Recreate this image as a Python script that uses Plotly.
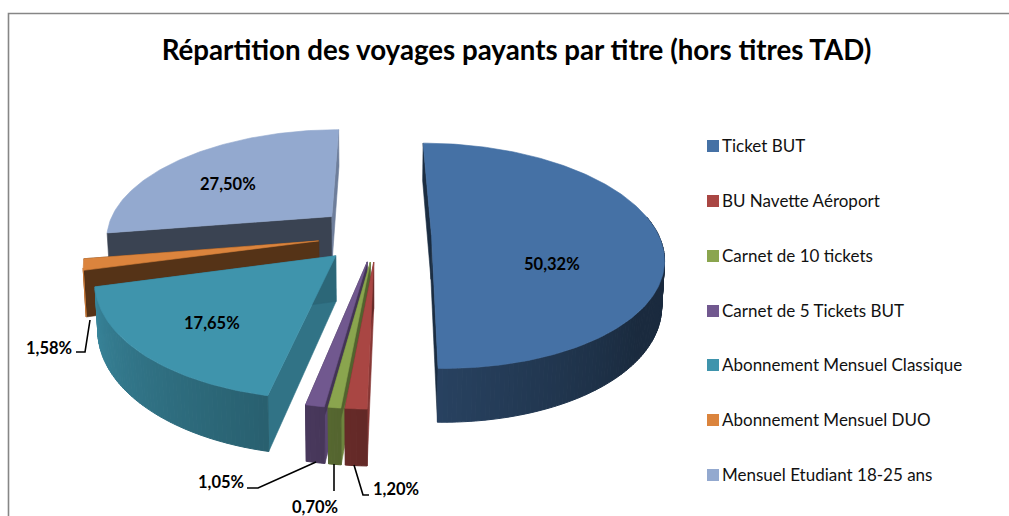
import numpy as np
import plotly.graph_objects as go

# ---- data ----
categories = ["Ticket BUT", "BU Navette Aéroport", "Carnet de 10 tickets", "Carnet de 5 Tickets BUT",
              "Abonnement Mensuel Classique", "Abonnement Mensuel DUO", "Mensuel Etudiant 18-25 ans"]
values = [50.32, 1.20, 0.70, 1.05, 17.65, 1.58, 27.50]
title_text = "Répartition des voyages payants par titre (hors titres TAD)"

# ---- styles ----
colors = ["#4571A5", "#A94643", "#8AA54E", "#71588F", "#3F94AC", "#DB843D", "#93A9CF"]
pulls = [0.24, 0.24, 0.24, 0.24, 0.255, 0.26, 0.27]
cut_start = [0.40, 0.80, 0.80, 0.80, 0.78, 0.39, 0.40]
cut_end = [0.40, 0.58, 0.60, 0.60, 0.70, 0.39, 0.75]
label_pos = [(552, 264), (396, 489), (315, 507), (221, 482), (212, 323), (49, 348), (228, 184)]
legend_rows = [146, 201, 256, 311, 365, 420, 475]
paint_order = [6, 5, 0, 4, 3, 2, 1]
leaders = [
    "M 90 320 L 85 352 L 76 352",
    "M 316 462 L 258 488 L 247 488",
    "M 334 464 L 334 491",
    "M 354 465 L 363 495 L 369 495",
]
CX, CY, RX, RY, K, DEPTH, SHRINK = 377, 235, 227, 108.8, 0.182, 44, 0.99


def top(X, Y):
    s = 1 / (1 - K * Y)
    return CX + RX * X * s, CY + RY * Y * s


def low(X, Y):
    s = 1 / (1 - K * Y)
    x, y = top(X, Y)
    return CX + (x - CX) * SHRINK, y + DEPTH * s


def shade(hexcol, f):
    r, g, b = (int(hexcol[i:i + 2], 16) for i in (1, 3, 5))
    return f"rgb({int(r * f)},{int(g * f)},{int(b * f)})"


def wall_factor(deg):
    return float(np.interp(deg, [60, 130, 180, 192, 255, 300], [0.38, 0.38, 0.58, 0.65, 0.90, 0.90]))


fig = go.Figure()


def poly(xs, ys, color, width=0.6):
    fig.add_trace(go.Scatter(
        x=list(xs), y=list(ys), mode="lines", fill="toself", fillcolor=color,
        line=dict(color=color, width=width), hoverinfo="skip", showlegend=False))


total = sum(values)
edges = np.concatenate([[0], np.cumsum(values)]) / total * 360

for i in paint_order:
    a0, a1 = edges[i], edges[i + 1]
    mid = np.radians((a0 + a1) / 2)
    ox, oy = pulls[i] * np.sin(mid), -pulls[i] * np.cos(mid)
    n = max(4, int(a1 - a0))
    th = np.radians(np.linspace(a0, a1, n + 1))
    X = ox + np.sin(th)
    Y = oy - np.cos(th)
    # cut faces
    for k, f in ((0, cut_start[i]), (-1, cut_end[i])):
        ax, ay = top(ox, oy)
        bx, by = top(X[k], Y[k])
        cx_, cy_ = low(X[k], Y[k])
        dx, dy = low(ox, oy)
        poly([ax, bx, cx_, dx, ax], [ay, by, cy_, dy, ay], shade(colors[i], f))
    # outer wall, as shaded strips (only the part facing the viewer shows)
    for j in range(n):
        deg = np.degrees((th[j] + th[j + 1]) / 2)
        if deg < 80 or deg > 256:
            continue
        x1, y1 = top(X[j], Y[j])
        x2, y2 = top(X[j + 1], Y[j + 1])
        x3, y3 = low(X[j + 1], Y[j + 1])
        x4, y4 = low(X[j], Y[j])
        poly([x1, x2, x3, x4, x1], [y1, y2, y3, y4, y1], shade(colors[i], wall_factor(deg)), 1)
    # top face
    tx, ty = top(X, Y)
    ax, ay = top(ox, oy)
    poly(np.r_[ax, tx, ax], np.r_[ay, ty, ay], colors[i])

# legend: swatches, then their names
fig.add_trace(go.Scatter(
    x=[713] * len(categories), y=legend_rows, mode="markers",
    marker=dict(symbol="square", size=12, color=colors), hoverinfo="skip", showlegend=False))
fig.add_trace(go.Scatter(
    x=[722] * len(categories), y=[r + 2 for r in legend_rows], mode="text", text=categories,
    textposition="middle right", textfont=dict(family="Lato", size=17, color="#111111"),
    hoverinfo="skip", showlegend=False))

# data labels
for v, (lx, ly) in zip(values, label_pos):
    fig.add_annotation(x=lx, y=ly, text=f"<b>{v:.2f}%</b>".replace(".", ","), showarrow=False,
                       font=dict(family="Lato", size=16.5, color="#000000"))

for p in leaders:
    fig.add_shape(type="path", path=p, line=dict(color="#000000", width=1.6))

# chart frame
fig.add_shape(type="path", path="M 8.5 516 L 8.5 13.5 L 1009 13.5", line=dict(color="#868686", width=1.6))

fig.update_layout(
    width=1009, height=516, margin=dict(l=0, r=0, t=0, b=0),
    paper_bgcolor="#FFFFFF", plot_bgcolor="#FFFFFF",
    title=dict(text=f"<b>{title_text}</b>", x=516.5 / 1009, xanchor="center", y=1 - 50 / 516, yanchor="middle",
               font=dict(family="Lato", size=27.7, color="#000000")),
    xaxis=dict(range=[0, 1009], visible=False, fixedrange=True),
    yaxis=dict(range=[516, 0], visible=False, fixedrange=True),
    showlegend=False,
)

fig.write_html("out.html", config=dict(displayModeBar=False), post_script="document.body.style.margin='0';")
